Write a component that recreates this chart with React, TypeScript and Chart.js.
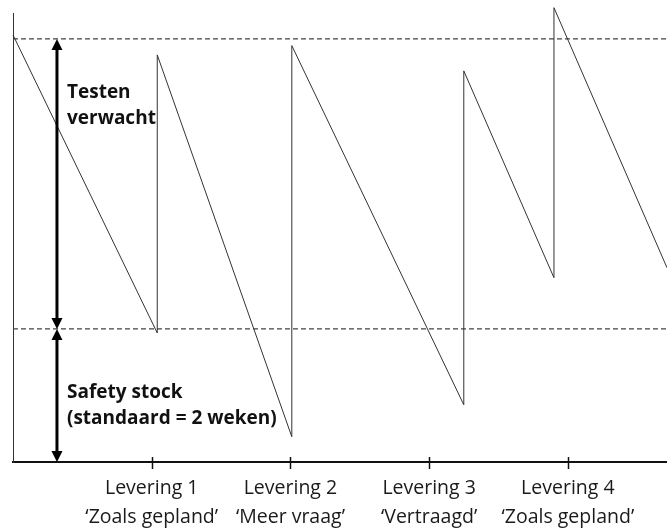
import React, { useEffect, useRef } from "react";
import { Chart, registerables } from "chart.js";
Chart.register(...registerables);

// Delivery moments on the x axis (periods)
const deliveryTicks = [1, 2, 3, 4];
const deliveryLabels = [
  ["Levering 1", "‘Zoals gepland’"],
  ["Levering 2", "‘Meer vraag’"],
  ["Levering 3", "‘Vertraagd’"],
  ["Levering 4", "‘Zoals gepland’"],
];
// Stock level (weeks) over time
const stockX = [0, 1.04, 1.04, 2.01, 2.01, 3.25, 3.25, 3.9, 3.9, 4.715];
const stockY = [6.42, 1.94, 6.12, 0.38, 6.26, 0.86, 5.88, 2.77, 6.83, 2.92];
// Reference levels
const expectedLevel = 6.36;
const safetyLevel = 2;
const xMax = 4.715;
const yMax = 6.75;
// Annotation anchors
const arrowX = 0.317;
const expectedText = ["Testen", "verwacht"];
const expectedTextY = 5.56;
const safetyText = ["Safety stock", "(standaard = 2 weken)"];
const safetyTextY = 1.05;

const FONT = "'Open Sans', Lato, sans-serif";

const annotationPlugin = {
  id: "annotations",
  afterDatasetsDraw(chart: any) {
    const { ctx, scales } = chart;
    const xs = scales.x;
    const ys = scales.y;
    const ax = xs.getPixelForValue(arrowX);
    const yTop = ys.getPixelForValue(expectedLevel);
    const yMid = ys.getPixelForValue(safetyLevel);
    const yBot = ys.getPixelForValue(0);
    ctx.save();
    // tick marks crossing the axis
    ctx.strokeStyle = "#111";
    ctx.lineWidth = 1.5;
    deliveryTicks.forEach((v) => {
      const px = Math.round(xs.getPixelForValue(v)) + 0.5;
      ctx.beginPath();
      ctx.moveTo(px, yBot - 5);
      ctx.lineTo(px, yBot + 7);
      ctx.stroke();
    });
    // double arrows
    ctx.strokeStyle = "#000";
    ctx.fillStyle = "#000";
    ctx.lineWidth = 3;
    const head = (tipY: number, dir: number) => {
      ctx.beginPath();
      ctx.moveTo(ax, tipY);
      ctx.lineTo(ax - 5.5, tipY + dir * 11);
      ctx.lineTo(ax + 5.5, tipY + dir * 11);
      ctx.closePath();
      ctx.fill();
    };
    ctx.beginPath();
    ctx.moveTo(ax, yTop + 8);
    ctx.lineTo(ax, yMid - 8);
    ctx.moveTo(ax, yMid + 8);
    ctx.lineTo(ax, yBot - 8);
    ctx.stroke();
    head(yTop, 1);
    head(yMid, -1);
    head(yMid, 1);
    head(yBot, -1);
    // texts
    ctx.font = `bold 19px ${FONT}`;
    ctx.textBaseline = "middle";
    ctx.textAlign = "left";
    ctx.fillStyle = "#111";
    const tx = ax + 10;
    const ty1 = ys.getPixelForValue(expectedTextY);
    expectedText.forEach((t, i) => ctx.fillText(t, tx, ty1 + i * 26));
    const ty2 = ys.getPixelForValue(safetyTextY);
    safetyText.forEach((t, i) => ctx.fillText(t, tx, ty2 + i * 26));
    ctx.restore();
  },
};

export default function App() {
  const ref = useRef<HTMLCanvasElement>(null);
  useEffect(() => {
    const stock = stockX.map((x, i) => ({ x, y: stockY[i] }));
    const chart = new Chart(ref.current!, {
      type: "line",
      data: {
        datasets: [
          {
            data: stock,
            borderColor: "#333",
            borderWidth: 1,
            pointRadius: 0,
            tension: 0,
            clip: false as any,
          },
          {
            data: [
              { x: 0, y: expectedLevel },
              { x: xMax, y: expectedLevel },
            ],
            borderColor: "#444",
            borderWidth: 1.2,
            borderDash: [5, 3],
            pointRadius: 0,
          },
          {
            data: [
              { x: 0, y: safetyLevel },
              { x: xMax, y: safetyLevel },
            ],
            borderColor: "#444",
            borderWidth: 1.2,
            borderDash: [5, 3],
            pointRadius: 0,
          },
        ],
      },
      options: {
        animation: false,
        responsive: false,
        layout: { padding: { left: 5, top: 13, right: 0, bottom: -16.5 } },
        plugins: { legend: { display: false }, tooltip: { enabled: false } },
        scales: {
          x: {
            type: "linear",
            min: 0,
            max: xMax,
            afterBuildTicks: (scale: any) => {
              scale.ticks = deliveryTicks.map((v) => ({ value: v }));
            },
            grid: { display: false, drawTicks: false },
            border: { display: true, color: "#111", width: 2 },
            ticks: {
              autoSkip: false,
              maxRotation: 0,
              padding: 12,
              color: "#1a1a1a",
              font: { family: FONT, size: 19.5, lineHeight: 1.5 },
              callback: (_v: any, i: number) => deliveryLabels[i],
            },
          },
          y: {
            type: "linear",
            min: 0,
            max: yMax,
            grid: { display: false },
            border: { display: true, color: "#333", width: 1 },
            ticks: { display: false },
          },
        },
      },
      plugins: [annotationPlugin],
    });
    return () => chart.destroy();
  }, []);
  return (
    <div style={{ position: "absolute", left: 0, top: 0, width: 667, height: 528, background: "#fff" }}>
      <canvas ref={ref} width={667} height={528} />
    </div>
  );
}
